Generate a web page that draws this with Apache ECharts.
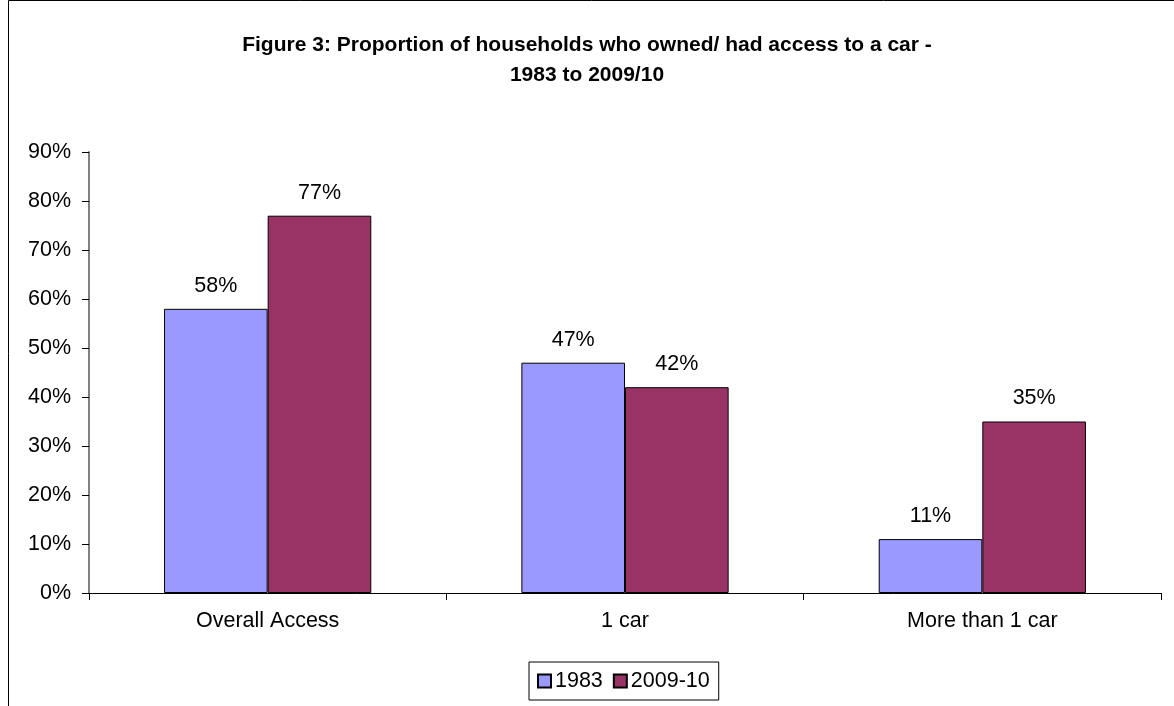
<!DOCTYPE html>
<html>
<head>
<meta charset="utf-8">
<script src="https://cdn.jsdelivr.net/npm/echarts@6/dist/echarts.min.js"></script>
<style>
  html, body { margin: 0; padding: 0; background: #fff; }
  #chart { width: 1174px; height: 706px; }
</style>
</head>
<body>
<div id="chart"></div>
<script>
// data
const categories = ['Overall Access', '1 car', 'More than 1 car'];
const series1983 = [58, 47, 11];
const series2009 = [77, 42, 35];
const yTicks = [0, 10, 20, 30, 40, 50, 60, 70, 80, 90];

const chart = echarts.init(document.getElementById('chart'));
const font = 'Arial, "Liberation Sans", sans-serif';

const labelOpt = {
  show: true,
  position: 'top',
  distance: 12,
  formatter: p => p.value + '%',
  color: '#000',
  fontSize: 21.5,
  fontFamily: font
};

chart.setOption({
  animation: false,
  backgroundColor: '#fff',
  title: {
    text: 'Figure 3: Proportion of households who owned/ had access to a car -\n1983 to 2009/10',
    left: 'center',
    top: 25,
    textStyle: {
      color: '#000',
      fontSize: 21,
      fontWeight: 'bold',
      fontFamily: font,
      lineHeight: 30
    }
  },
  // outer frame
  graphic: [{
    type: 'rect',
    shape: { x: 8.5, y: 0.5, width: 1170, height: 710 },
    style: { fill: 'none', stroke: '#000', lineWidth: 1 },
    silent: true
  }],
  legend: {
    data: ['1983', '2009-10'],
    bottom: 6,
    left: 529,
    itemWidth: 13,
    itemHeight: 13,
    itemGap: 10,
    padding: [8, 9, 8, 8],
    borderColor: '#000',
    borderWidth: 1,
    icon: 'rect',
    textStyle: { color: '#000', fontSize: 21.5, fontFamily: font, padding: [0, 0, 0, -1] }
  },
  grid: {
    left: 89,
    right: 13,
    top: 152,
    bottom: 113
  },
  xAxis: {
    type: 'category',
    data: categories,
    axisLine: { lineStyle: { color: '#000', width: 1 } },
    axisTick: { show: true, alignWithLabel: false, length: 7, lineStyle: { color: '#000' } },
    axisLabel: { color: '#000', fontSize: 21.5, fontFamily: font, margin: 17 },
    splitLine: { show: false }
  },
  yAxis: {
    type: 'value',
    min: yTicks[0],
    max: yTicks[yTicks.length - 1],
    interval: 10,
    axisLine: { show: true, lineStyle: { color: '#808080', width: 2 } },
    axisTick: { show: true, length: 7, lineStyle: { color: '#000' } },
    axisLabel: { color: '#000', fontSize: 21.5, fontFamily: font, margin: 18, formatter: '{value}%' },
    splitLine: { show: false }
  },
  series: [
    {
      name: '1983',
      type: 'bar',
      data: series1983,
      barGap: '0%',
      barCategoryGap: '42%',
      itemStyle: { color: '#9999FF', borderColor: '#000', borderWidth: 1 },
      label: labelOpt
    },
    {
      name: '2009-10',
      type: 'bar',
      data: series2009,
      itemStyle: { color: '#993366', borderColor: '#000', borderWidth: 1 },
      label: labelOpt
    }
  ]
});
</script>
</body>
</html>
